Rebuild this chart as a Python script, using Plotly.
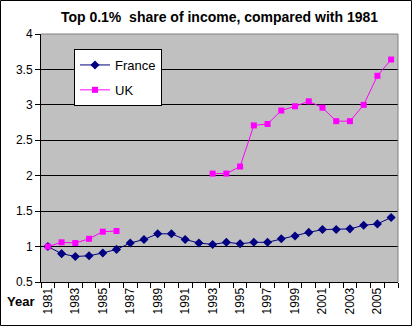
import plotly.graph_objects as go

years = list(range(1981, 2007))
france = [1.00, 0.90, 0.86, 0.87, 0.91, 0.96, 1.05, 1.10, 1.18, 1.18, 1.10, 1.05,
          1.03, 1.06, 1.04, 1.06, 1.06, 1.11, 1.15, 1.20, 1.24, 1.24, 1.25, 1.30,
          1.32, 1.41]
uk = [1.00, 1.06, 1.05, 1.11, 1.21, 1.22, None, None, None, None, None, None,
      2.03, 2.03, 2.13, 2.71, 2.73, 2.92, 2.98, 3.05, 2.96, 2.77, 2.77, 3.00,
      3.41, 3.64]
label_years = list(range(1981, 2006, 2))
y_ticks = [0.5, 1, 1.5, 2, 2.5, 3, 3.5, 4]
y_labels = ["0.5", "1", "1.5", "2", "2.5", "3", "3.5", "4"]

W, H = 412, 326
L, R, T, B = 41, 14, 34, 44
pw, ph = W - L - R, H - T - B

def px_x(p):
    return (p - L) / pw

def px_y(p):
    return (H - B - p) / ph

font = "Liberation Sans, Arial, sans-serif"

fig = go.Figure()
fig.add_trace(go.Scatter(
    x=years, y=france, name="France", mode="lines+markers",
    legendgroup="fr",
    line=dict(color="#000080", width=1),
    marker=dict(symbol="diamond", size=7, color="#000080"),
))
fig.add_trace(go.Scatter(
    x=years, y=uk, name="UK", mode="lines+markers",
    legendgroup="uk",
    line=dict(color="#FF00FF", width=1),
    marker=dict(symbol="square", size=6, color="#FF00FF"),
    connectgaps=False,
))

fig.update_layout(
    width=W, height=H,
    margin=dict(l=L, r=R, t=T, b=B),
    paper_bgcolor="white",
    plot_bgcolor="#C0C0C0",
    font=dict(family=font, size=12, color="black"),
    title=dict(text="<b>Top 0.1%\u00a0 share of income, compared with 1981</b>",
               x=0.5, xref="paper", y=1 - 17 / H, yanchor="middle",
               font=dict(size=14, family=font)),
    showlegend=True,
    legend=dict(x=px_x(74), y=px_y(49), xanchor="left", yanchor="top",
                bgcolor="white", bordercolor="black", borderwidth=1,
                traceorder="grouped", tracegroupgap=5,
                font=dict(size=13, family=font)),
    xaxis=dict(
        range=[1980.5, 2006.5],
        tickmode="array", tickvals=label_years,
        ticktext=[str(y) for y in label_years],
        tickangle=-90, ticks="", showgrid=False, zeroline=False,
        showline=True, linecolor="black", linewidth=1,
        tickfont=dict(size=12, family=font),
        minor=dict(tickmode="linear", tick0=1980.5, dtick=1, ticks="outside",
                   ticklen=5, tickcolor="black", showgrid=False),
    ),
    yaxis=dict(
        range=[0.5, 4],
        tickmode="array", tickvals=y_ticks, ticktext=y_labels,
        ticks="outside", ticklen=5, tickcolor="black",
        showgrid=True, gridcolor="black", gridwidth=1, zeroline=False,
        showline=True, linecolor="black", linewidth=1,
        tickfont=dict(size=12, family=font),
    ),
    annotations=[dict(
        text="<b>Year</b>", xref="paper", yref="paper",
        x=px_x(20), y=px_y(301), xanchor="center", yanchor="middle",
        showarrow=False, font=dict(size=13, family=font),
    )],
    shapes=[
        dict(type="line", xref="paper", yref="paper", x0=0, x1=1, y0=1, y1=1,
             line=dict(color="#808080", width=1)),
        dict(type="line", xref="paper", yref="paper", x0=1, x1=1, y0=0, y1=1,
             line=dict(color="#808080", width=1)),
        dict(type="rect", xref="paper", yref="paper",
             x0=px_x(0.5), x1=px_x(411.5), y0=px_y(325.5), y1=px_y(0.5),
             line=dict(color="black", width=1)),
    ],
)

fig.write_html("out.html")
